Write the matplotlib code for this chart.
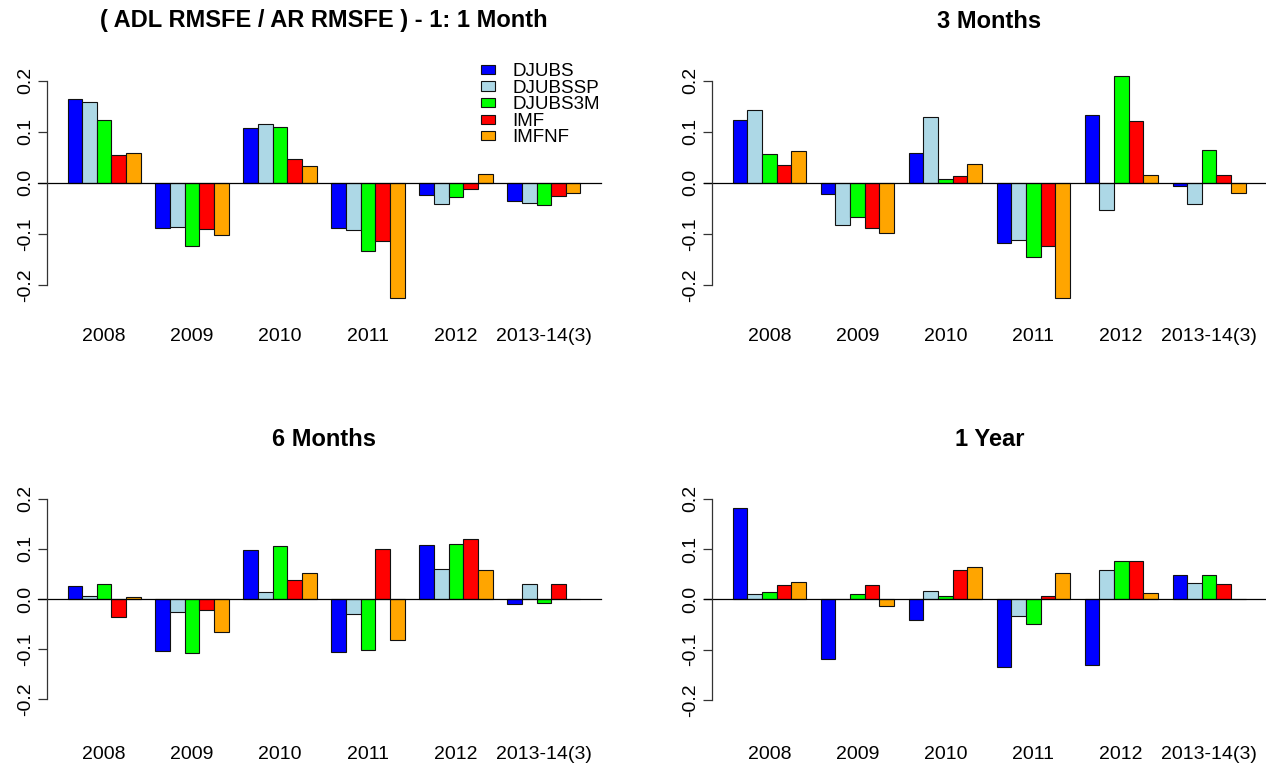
import numpy as np
import matplotlib
matplotlib.use("Agg")
import matplotlib.pyplot as plt
import matplotlib.transforms as mtransforms

plt.rcParams['font.family'] = ['Liberation Sans', 'DejaVu Sans']

years = ['2008', '2009', '2010', '2011', '2012', '2013-14(3)']
series = ['DJUBS', 'DJUBSSP', 'DJUBS3M', 'IMF', 'IMFNF']
colors = ['#0000FF', '#ADD8E6', '#00FF00', '#FF0000', '#FFA500']
titles = ['( ADL RMSFE / AR RMSFE ) - 1: 1 Month', '3 Months', '6 Months', '1 Year']

# rows = series, columns = years
one_month = [[0.164, -0.088, 0.107, -0.088, -0.024, -0.035],
             [0.159, -0.086, 0.116, -0.092, -0.042, -0.039],
             [0.122, -0.125, 0.110, -0.133, -0.028, -0.044],
             [0.054, -0.090, 0.046, -0.115, -0.013, -0.026],
             [0.059, -0.103, 0.033, -0.227, 0.018, -0.020]]

three_months = [[0.122, -0.022, 0.058, -0.119, 0.133, -0.007],
                [0.142, -0.082, 0.128, -0.113, -0.053, -0.042],
                [0.056, -0.068, 0.008, -0.146, 0.210, 0.064],
                [0.034, -0.088, 0.014, -0.125, 0.120, 0.016],
                [0.063, -0.099, 0.037, -0.227, 0.016, -0.020]]

six_months = [[0.025, -0.103, 0.098, -0.105, 0.107, -0.010],
              [0.006, -0.025, 0.013, -0.030, 0.060, 0.029],
              [0.030, -0.108, 0.105, -0.102, 0.109, -0.008],
              [-0.036, -0.021, 0.038, 0.099, 0.119, 0.030],
              [0.004, -0.066, 0.051, -0.081, 0.058, 0.0005]]

one_year = [[0.181, -0.118, -0.041, -0.135, -0.130, 0.049],
            [0.011, 0.001, 0.017, -0.034, 0.058, 0.033],
            [0.015, 0.011, 0.006, -0.050, 0.077, 0.049],
            [0.029, 0.029, 0.058, 0.006, 0.077, 0.030],
            [0.035, -0.013, 0.064, 0.053, 0.013, 0.0005]]

panels = [one_month, three_months, six_months, one_year]

W, H = 1266, 765
fig = plt.figure(figsize=(W / 100, H / 100), dpi=100)

ylo, yhi = -0.26, 0.22
# (left px, zero px, px per unit) for each panel
layout = [(47, 182.7, 510), (712.3, 182.7, 510), (47, 599.0, 502), (712.3, 599.3, 502)]
title_y = [21, 21, 440, 440]
label_pad = [9, 9, 12, 12]
plot_w = 554

for k, vals in enumerate(panels):
    lx, zy, ppu = layout[k]
    top = zy - yhi * ppu
    bot = zy - ylo * ppu
    ax = fig.add_axes([lx / W, 1 - bot / H, plot_w / W, (bot - top) / H])
    vals = np.array(vals)
    nser, ngrp = vals.shape
    for j in range(nser):
        x = 1 + np.arange(ngrp) * (nser + 1) + j
        ax.bar(x, vals[j], width=1, align='edge', color=colors[j],
               edgecolor='#111111', linewidth=0.8, label=series[j])
    ax.plot([-1, 37.4], [0, 0], color='black', linewidth=0.9, clip_on=False)
    ax.set_xlim(-0.4, 37.4)
    ax.set_ylim(ylo, yhi)
    for s in ['top', 'right', 'bottom']:
        ax.spines[s].set_visible(False)
    ax.spines['left'].set_bounds(-0.2, 0.2)
    ax.spines['left'].set_linewidth(0.9)
    ax.spines['left'].set_color('#333333')
    ax.set_yticks([-0.2, -0.1, 0.0, 0.1, 0.2])
    ax.set_yticklabels(['-0.2', '-0.1', '0.0', '0.1', '0.2'], rotation=90, va='center')
    ax.tick_params(axis='y', length=6.3, width=0.9, labelsize=14, pad=3, color='#333333')
    centers = 1 + np.arange(ngrp) * (nser + 1) + nser / 2
    ax.set_xticks(centers)
    ax.set_xticklabels(years)
    ax.tick_params(axis='x', length=0, labelsize=14, pad=label_pad[k])
    trans = mtransforms.blended_transform_factory(ax.transAxes, fig.transFigure)
    ax.text(0.5, 1 - title_y[k] / H, titles[k], transform=trans, ha='center', va='center',
            fontsize=17, fontweight='bold')
    if k == 0:
        ax.legend(loc='upper left', bbox_to_anchor=(480.7 / W, 1 - 63 / H),
                  bbox_transform=fig.transFigure, frameon=False, fontsize=13.5,
                  handlelength=0.77, handleheight=0.38, handletextpad=0.9,
                  labelspacing=-0.02, borderpad=0, borderaxespad=0)

fig.savefig('out.png', dpi=100)
